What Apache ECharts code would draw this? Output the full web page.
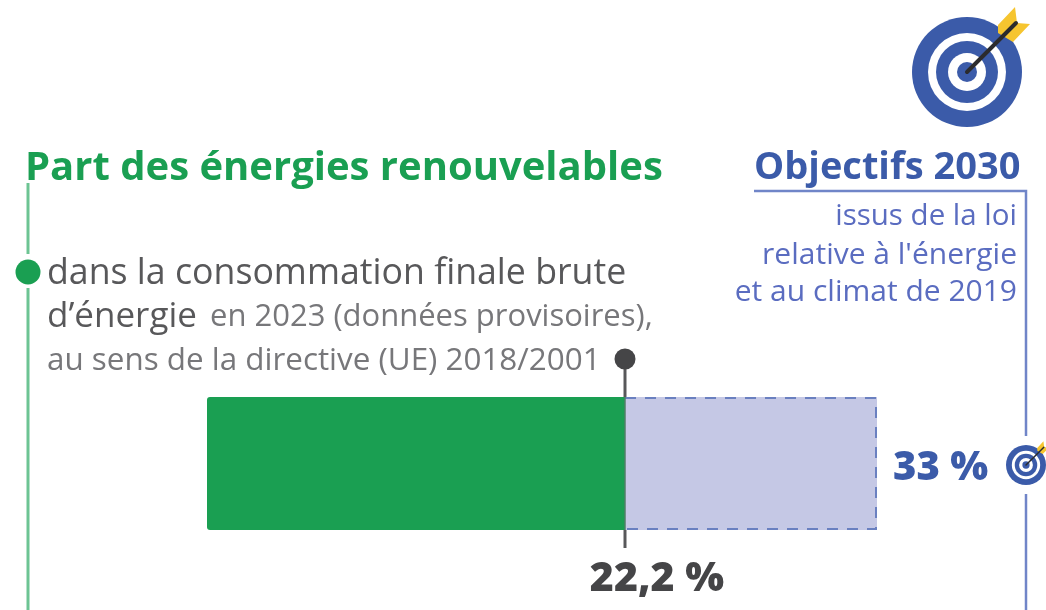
<!DOCTYPE html>
<html>
<head>
<meta charset="utf-8">
<title>Part des énergies renouvelables</title>
<script src="https://cdn.jsdelivr.net/npm/echarts@6/dist/echarts.min.js"></script>
<style>
  html, body { margin: 0; padding: 0; background: #fff; }
  #container { width: 1046px; height: 610px; }
</style>
</head>
<body>
<div id="container"></div>
<script>
const categories = ['Part des énergies renouvelables'];
const renewableShare = [22.2];
const targetShare = [33];
const valueLabels = ['22,2 %', '33 %'];

const green = '#1a9f52';
const greenLine = '#6dc493';
const blue = '#3b5ba9';
const blueLine = '#7085c8';
const blueText = '#5a6cc0';
const grey = '#58585a';
const lightGrey = '#77777a';
const font = '"Open Sans"';

var myChart = echarts.init(document.getElementById('container'), null, { renderer: 'canvas' });

// the source drawing does not keep one scale: 0-22,2 and 22,2-33 are laid out separately
function renderTarget(params, api) {
  var start = api.coord([renewableShare[0], 0]);
  var end = api.coord([api.value(0), 0]);
  var h = api.size([0, 1])[1];
  var top = start[1] - h / 2;
  var bottom = start[1] + h / 2;
  return {
    type: 'group',
    children: [
      {
        type: 'rect',
        shape: { x: start[0], y: top, width: end[0] - start[0], height: h },
        style: { fill: '#c5c8e5' }
      },
      {
        type: 'polyline',
        shape: { points: [[start[0], top + 1], [end[0] - 1, top + 1], [end[0] - 1, bottom - 1], [start[0], bottom - 1]] },
        style: { fill: null, stroke: '#6a80c0', lineWidth: 2, lineDash: [11, 9] }
      }
    ]
  };
}

function renderMarker(params, api) {
  var p = api.coord([api.value(0), 0]);
  var h = api.size([0, 1])[1];
  var top = p[1] - h / 2;
  var bottom = p[1] + h / 2;
  return {
    type: 'group',
    children: [
      { type: 'line', shape: { x1: p[0], y1: top - 38, x2: p[0], y2: top }, style: { stroke: grey, lineWidth: 3 } },
      { type: 'line', shape: { x1: p[0], y1: bottom, x2: p[0], y2: bottom + 18 }, style: { stroke: grey, lineWidth: 3 } },
      { type: 'line', shape: { x1: p[0], y1: top, x2: p[0], y2: bottom }, style: { stroke: '#4f7f66', lineWidth: 1.5 } },
      { type: 'circle', shape: { cx: p[0], cy: top - 38, r: 10.5 }, style: { fill: '#454547' } },
      {
        type: 'text',
        x: p[0] + 32,
        y: bottom + 49,
        style: { text: valueLabels[0], font: '800 41px ' + font, fill: '#454547', textAlign: 'center', textVerticalAlign: 'middle' }
      }
    ]
  };
}

// target icon, size given by the outer radius
function targetIcon(cx, cy, r) {
  var k = r / 55;
  var fletch = [[31, -47], [48, -65], [50, -49], [63, -48], [46, -30], [31, -39]];
  return {
    type: 'group',
    x: cx,
    y: cy,
    scaleX: k,
    scaleY: k,
    children: [
      { type: 'circle', shape: { cx: 0, cy: 0, r: 55 }, style: { fill: blue } },
      { type: 'circle', shape: { cx: 0, cy: 0, r: 39 }, style: { fill: '#fff' } },
      { type: 'circle', shape: { cx: 0, cy: 0, r: 31 }, style: { fill: blue } },
      { type: 'circle', shape: { cx: 0, cy: 0, r: 19 }, style: { fill: '#fff' } },
      { type: 'circle', shape: { cx: 0, cy: 0, r: 10 }, style: { fill: blue } },
      { type: 'polygon', shape: { points: fletch }, style: { fill: '#f6c52f' } },
      { type: 'line', shape: { x1: 0, y1: 0, x2: 49, y2: -49 }, style: { stroke: '#2b2b2d', lineWidth: 4, lineCap: 'round' } }
    ]
  };
}

function textLine(text, x, y, size, color, weight, align) {
  return {
    type: 'text',
    x: x,
    y: y,
    style: {
      text: text,
      font: (weight || 'normal') + ' ' + size + 'px ' + font,
      fill: color,
      textAlign: align || 'left',
      textVerticalAlign: 'middle'
    }
  };
}

var option = {
  animation: false,
  backgroundColor: '#fff',
  grid: [
    { left: 207, top: 397, width: 418, height: 133 },
    { left: 625, top: 397, width: 252, height: 133 }
  ],
  xAxis: [
    { type: 'value', gridIndex: 0, min: 0, max: renewableShare[0], show: false },
    { type: 'value', gridIndex: 1, min: renewableShare[0], max: targetShare[0], show: false }
  ],
  yAxis: [
    { type: 'category', gridIndex: 0, data: categories, show: false },
    { type: 'category', gridIndex: 1, data: categories, show: false }
  ],
  series: [
    {
      type: 'bar',
      xAxisIndex: 0,
      yAxisIndex: 0,
      data: renewableShare,
      barWidth: 133,
      itemStyle: { color: green, borderRadius: [3, 0, 0, 3] },
      silent: true
    },
    {
      type: 'custom',
      xAxisIndex: 1,
      yAxisIndex: 1,
      data: targetShare,
      encode: { x: 0 },
      renderItem: renderTarget,
      silent: true
    },
    {
      type: 'custom',
      xAxisIndex: 0,
      yAxisIndex: 0,
      data: renewableShare,
      encode: { x: 0 },
      renderItem: renderMarker,
      silent: true,
      z: 5
    }
  ],
  graphic: [
    // left frame
    { type: 'line', shape: { x1: 28, y1: 183, x2: 28, y2: 254 }, style: { stroke: greenLine, lineWidth: 3 } },
    { type: 'line', shape: { x1: 28, y1: 288, x2: 28, y2: 610 }, style: { stroke: greenLine, lineWidth: 3 } },
    { type: 'circle', shape: { cx: 28, cy: 272, r: 12.5 }, style: { fill: green } },
    textLine('Part des énergies renouvelables', 25, 169, 40, green, 'bold'),
    textLine('dans la consommation finale brute', 47, 274, 35.7, grey),
    // two sizes on one line, placed as separate texts so the gap can be matched
    textLine('d’énergie', 47, 317, 35, grey),
    textLine('en 2023 (données provisoires),', 210, 317, 31, lightGrey),
    textLine('au sens de la directive (UE) 2018/2001', 47, 361, 31.4, lightGrey),
    // right frame
    { type: 'polyline', shape: { points: [[754, 191], [1026, 191], [1026, 436]] }, style: { fill: null, stroke: blueLine, lineWidth: 2.5 } },
    { type: 'line', shape: { x1: 1026, y1: 494, x2: 1026, y2: 610 }, style: { stroke: blueLine, lineWidth: 2.5 } },
    textLine('Objectifs 2030', 754, 168, 38, blue, 'bold'),
    textLine('issus de la loi', 1017, 217, 29.5, blueText, 'normal', 'right'),
    textLine('relative à l\'énergie', 1017, 255, 30, blueText, 'normal', 'right'),
    textLine('et au climat de 2019', 1017, 292, 30, blueText, 'normal', 'right'),
    textLine(valueLabels[1], 893, 469, 40, blue, '800'),
    targetIcon(967, 72, 55),
    targetIcon(1026, 465, 20)
  ]
};

myChart.setOption(option);
</script>
</body>
</html>
